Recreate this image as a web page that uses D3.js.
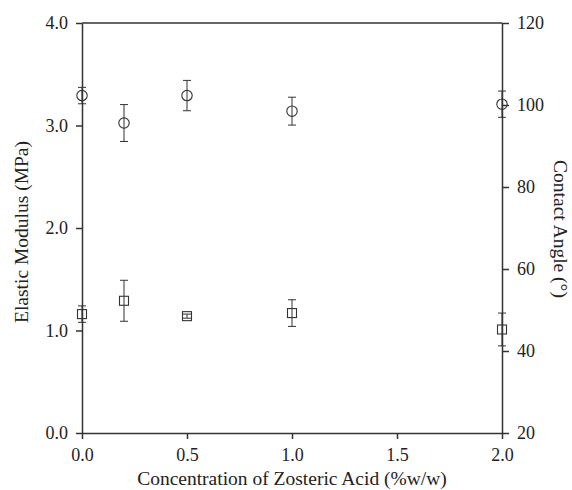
<!DOCTYPE html>
<html>
<head>
<meta charset="utf-8">
<script src="https://cdn.jsdelivr.net/npm/d3@7"></script>
<style>
  body { margin: 0; background: #fff; }
  text { font-family: "Liberation Serif", serif; fill: #222; }
</style>
</head>
<body>
<div id="chart"></div>
<script>
// Data
const concentration = [0, 0.2, 0.5, 1.0, 2.0];
const modulus = [1.16, 1.29, 1.14, 1.17, 1.01];       // MPa, left axis (squares)
const modulusErr = [0.08, 0.20, 0.02, 0.13, 0.16];
const contactAngle = [102.3, 95.6, 102.3, 98.5, 100.2]; // degrees, right axis (circles)
const angleErr = [2.0, 4.5, 3.7, 3.4, 3.2];

const xTicks = [0, 0.5, 1.0, 1.5, 2.0];
const leftTicks = [0, 1, 2, 3, 4];
const rightTicks = [20, 40, 60, 80, 100, 120];

const W = 572, H = 490;
const margin = {top: 23, right: 70, bottom: 57, left: 82};
const width = W - margin.left - margin.right;
const height = H - margin.top - margin.bottom;
const ink = "#333";
const font = "Liberation Serif, serif";

const svg = d3.select("#chart").append("svg")
  .attr("width", W)
  .attr("height", H);

const g = svg.append("g")
  .attr("transform", `translate(${margin.left},${margin.top})`);

const x = d3.scaleLinear().domain([0, 2]).range([0, width]);
const yL = d3.scaleLinear().domain([0, 4]).range([height, 0]);
const yR = d3.scaleLinear().domain([20, 120]).range([height, 0]);

// top frame line
g.append("line")
  .attr("x1", x(0)).attr("x2", x(2))
  .attr("y1", 0).attr("y2", 0)
  .attr("stroke", ink).attr("stroke-width", 1.5);

function styleAxis(sel) {
  sel.attr("font-family", font);
  sel.selectAll("path, line").attr("stroke", ink).attr("stroke-width", 1.5);
  sel.selectAll("text").style("font-size", "18px").attr("fill", "#222");
}

g.append("g")
  .attr("transform", `translate(0,${height})`)
  .call(d3.axisBottom(x).tickValues(xTicks).tickFormat(d3.format(".1f")).tickSize(6).tickSizeOuter(0).tickPadding(9))
  .call(styleAxis);

g.append("g")
  .call(d3.axisLeft(yL).tickValues(leftTicks).tickFormat(d3.format(".1f")).tickSize(6).tickSizeOuter(0).tickPadding(8))
  .call(styleAxis);

g.append("g")
  .attr("transform", `translate(${width},0)`)
  .call(d3.axisRight(yR).tickValues(rightTicks).tickFormat(d3.format("d")).tickSize(7).tickSizeOuter(0).tickPadding(8))
  .call(styleAxis);

// error bars helper
function errorBars(values, errs, yScale, cls) {
  const data = concentration.map((c, i) => ({x: c, y: values[i], e: errs[i]}));
  const eb = g.selectAll("." + cls).data(data).enter().append("g").attr("class", cls)
    .attr("stroke", ink).attr("stroke-width", 1);
  eb.append("line")
    .attr("x1", d => x(d.x)).attr("x2", d => x(d.x))
    .attr("y1", d => yScale(d.y - d.e)).attr("y2", d => yScale(d.y + d.e));
  eb.append("line")
    .attr("x1", d => x(d.x) - 4).attr("x2", d => x(d.x) + 4)
    .attr("y1", d => yScale(d.y + d.e)).attr("y2", d => yScale(d.y + d.e));
  eb.append("line")
    .attr("x1", d => x(d.x) - 4).attr("x2", d => x(d.x) + 4)
    .attr("y1", d => yScale(d.y - d.e)).attr("y2", d => yScale(d.y - d.e));
  return data;
}

const modData = errorBars(modulus, modulusErr, yL, "err-mod");
const angData = errorBars(contactAngle, angleErr, yR, "err-ang");

// squares: elastic modulus
g.selectAll(".sq").data(modData).enter().append("rect")
  .attr("class", "sq")
  .attr("x", d => x(d.x) - 4.5)
  .attr("y", d => yL(d.y) - 4.5)
  .attr("width", 9).attr("height", 9)
  .attr("fill", "none")
  .attr("stroke", ink).attr("stroke-width", 1.1);

// circles: contact angle
g.selectAll(".ci").data(angData).enter().append("circle")
  .attr("class", "ci")
  .attr("cx", d => x(d.x))
  .attr("cy", d => yR(d.y))
  .attr("r", 5.2)
  .attr("fill", "none")
  .attr("stroke", ink).attr("stroke-width", 1.1);

// axis titles
svg.append("text")
  .attr("x", margin.left + width / 2)
  .attr("y", 485)
  .attr("text-anchor", "middle")
  .style("font-size", "19.5px")
  .text("Concentration of Zosteric Acid (%w/w)");

svg.append("text")
  .attr("transform", `translate(28,232) rotate(-90)`)
  .attr("text-anchor", "middle")
  .style("font-size", "19.5px")
  .text("Elastic Modulus (MPa)");

svg.append("text")
  .attr("transform", `translate(554,229) rotate(90)`)
  .attr("text-anchor", "middle")
  .style("font-size", "19.5px")
  .text("Contact Angle (°)");
</script>
</body>
</html>
